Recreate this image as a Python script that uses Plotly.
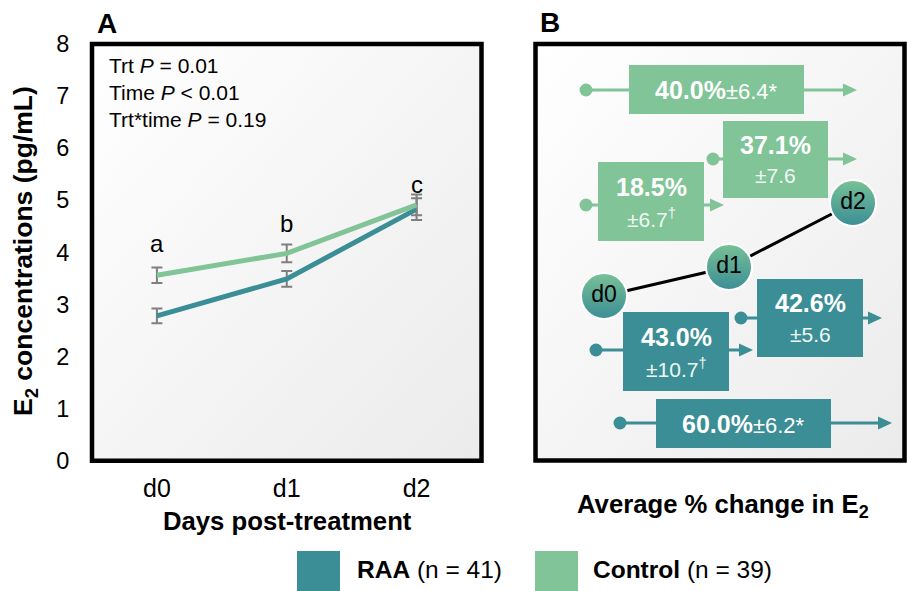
import base64
import plotly.graph_objects as go

# ---------------- data ----------------
days = ["d0", "d1", "d2"]
raa_mean = [2.78, 3.49, 4.83]
raa_se = [0.14, 0.15, 0.21]
ctrl_mean = [3.56, 3.98, 4.91]
ctrl_se = [0.15, 0.17, 0.20]
sig_letters = ["a", "b", "c"]
letter_y = [4.17, 4.55, 5.30]
stats_lines = ["Trt <i>P</i> = 0.01", "Time <i>P</i> < 0.01", "Trt*time <i>P</i> = 0.19"]
y_ticks = [0, 1, 2, 3, 4, 5, 6, 7, 8]

change_pct = ["40.0%", "37.1%", "18.5%", "42.6%", "43.0%", "60.0%"]
change_se = ["±6.4*", "±7.6", "±6.7<sup>†</sup>", "±5.6", "±10.7<sup>†</sup>", "±6.2*"]
change_group = ["Control", "Control", "Control", "RAA", "RAA", "RAA"]
day_nodes = ["d0", "d1", "d2"]

legend_groups = ["RAA", "Control"]
legend_n = [41, 39]

# ---------------- styling / layout geometry (pixels) ----------------
W, H = 907, 591
TEAL = "#3b8e96"
GREEN = "#80c497"
FONT = "Liberation Sans, Arial, sans-serif"
colors = {"RAA": TEAL, "Control": GREEN}

A_box = dict(x0=92, x1=481.5, y0=44, y1=460.7)
B_box = dict(x0=535.5, x1=904.5, y0=44, y1=460.5)

# box layout: x0, x1, y0, y1, dot_x, dot_y, tip_x, single_line
box_geo = [
    (629, 804, 65, 114, 586, 90, 857, True),
    (723, 828, 121, 198, 713, 159, 857, False),
    (598, 704, 162, 241, 586, 205, 724, False),
    (757, 863, 279, 357, 741, 318, 882, False),
    (623, 729, 312, 391, 596, 350, 753, False),
    (656, 831, 399, 448, 620, 423, 892, True),
]
node_xy = [(604, 296), (729, 267), (853, 203)]


def px(x):
    return x / W


def py(y):
    return 1 - y / H


def grad_uri():
    svg = ('<svg xmlns="http://www.w3.org/2000/svg" width="100" height="100" viewBox="0 0 100 100" '
           'preserveAspectRatio="none"><defs><linearGradient id="g" x1="0" y1="0" x2="1" y2="1">'
           '<stop offset="0" stop-color="#ffffff"/><stop offset="1" stop-color="#ebebeb"/>'
           '</linearGradient></defs><rect width="100" height="100" fill="url(#g)"/></svg>')
    return "data:image/svg+xml;base64," + base64.b64encode(svg.encode()).decode()


fig = go.Figure()

# ---------------- panel A ----------------
for name, mean, se in [("RAA", raa_mean, raa_se), ("Control", ctrl_mean, ctrl_se)]:
    fig.add_trace(go.Scatter(
        x=days, y=mean, mode="lines", name=name, showlegend=False,
        line=dict(color=colors[name], width=5),
        error_y=dict(type="data", array=se, color="#7f7f7f", thickness=2, width=5.5),
        xaxis="x", yaxis="y", cliponaxis=False,
    ))

annotations = []
for d, letter, ly in zip(days, sig_letters, letter_y):
    annotations.append(dict(x=d, y=ly, xref="x", yref="y", text=letter, showarrow=False,
                            font=dict(size=24, color="black", family=FONT)))

for i, t in enumerate(stats_lines):
    annotations.append(dict(x=107, y=65 + 27 * i, xref="x2", yref="y2", text=t, showarrow=False,
                            xanchor="left", yanchor="middle", font=dict(size=21, color="black", family=FONT)))

# ---------------- panel B ----------------
shapes = []
for b in (A_box, B_box):
    shapes.append(dict(type="rect", xref="x2", yref="y2", layer="above", **b,
                       line=dict(color="black", width=4.5), fillcolor="rgba(0,0,0,0)"))

for (x0, x1, y0, y1, dx, dy, tx, single), pct, se, grp in zip(box_geo, change_pct, change_se, change_group):
    c = colors[grp]
    shapes.append(dict(type="line", xref="x2", yref="y2", layer="below",
                       x0=dx, y0=dy, x1=tx - 10, y1=dy, line=dict(color=c, width=3)))
    shapes.append(dict(type="path", xref="x2", yref="y2", layer="below",
                       path=f"M{tx-14},{dy-6.5} L{tx},{dy} L{tx-14},{dy+6.5} Z",
                       fillcolor=c, line=dict(width=0)))
    shapes.append(dict(type="rect", xref="x2", yref="y2", layer="below",
                       x0=x0, x1=x1, y0=y0, y1=y1, fillcolor=c, line=dict(width=0)))
    cx, cy = (x0 + x1) / 2, (y0 + y1) / 2
    if single:
        annotations.append(dict(x=cx, y=cy, xref="x2", yref="y2", showarrow=False,
                                text=f"<b>{pct}</b><span style='font-size:22px'>{se}</span>",
                                font=dict(size=25, color="white", family=FONT)))
    else:
        annotations.append(dict(x=cx, y=cy - 15, xref="x2", yref="y2", showarrow=False,
                                text=f"<b>{pct}</b>", font=dict(size=25, color="white", family=FONT)))
        annotations.append(dict(x=cx, y=cy + 16, xref="x2", yref="y2", showarrow=False,
                                text=se, font=dict(size=21, color="#f0f8f4", family=FONT)))
    fig.add_trace(go.Scatter(x=[dx], y=[dy], mode="markers", xaxis="x2", yaxis="y2", showlegend=False,
                             marker=dict(size=13, color=c, line=dict(width=0)), hoverinfo="skip"))

fig.add_trace(go.Scatter(x=[p[0] for p in node_xy], y=[p[1] for p in node_xy], mode="lines",
                         xaxis="x2", yaxis="y2", showlegend=False,
                         line=dict(color="black", width=3), hoverinfo="skip"))
fig.add_trace(go.Scatter(x=[p[0] for p in node_xy], y=[p[1] for p in node_xy], mode="markers+text",
                         text=day_nodes, textposition="middle center",
                         textfont=dict(size=23, color="black", family=FONT),
                         xaxis="x2", yaxis="y2", showlegend=False, hoverinfo="skip",
                         marker=dict(size=46, color="#78c196", line=dict(color="white", width=2),
                                     gradient=dict(type="vertical", color=TEAL))))

annotations += [
    dict(x=107, y=23, xref="x2", yref="y2", text="<b>A</b>", showarrow=False,
         font=dict(size=28, color="black", family=FONT)),
    dict(x=550, y=22, xref="x2", yref="y2", text="<b>B</b>", showarrow=False,
         font=dict(size=28, color="black", family=FONT)),
    dict(x=287, y=521, xref="x2", yref="y2", text="<b>Days post-treatment</b>", showarrow=False,
         font=dict(size=25.7, color="black", family=FONT)),
    dict(x=723, y=506, xref="x2", yref="y2", text="<b>Average % change in E<sub>2</sub></b>", showarrow=False,
         font=dict(size=25.7, color="black", family=FONT)),
    dict(x=25, y=251, xref="x2", yref="y2", text="<b>E<sub>2</sub> concentrations (pg/mL)</b>",
         showarrow=False, textangle=-90, font=dict(size=26.5, color="black", family=FONT)),
]

leg_geo = [(297, 340, 355), (535, 578, 591)]
for (lx0, lx1, tx), g, n in zip(leg_geo, legend_groups, legend_n):
    shapes.append(dict(type="rect", xref="x2", yref="y2", layer="above",
                       x0=lx0, x1=lx1, y0=551, y1=592, fillcolor=colors[g], line=dict(width=0)))
    annotations.append(dict(x=tx, y=569, xref="x2", yref="y2", xanchor="left", showarrow=False,
                            text=f"<b>{g}</b> (n = {n})", font=dict(size=24.5, color="black", family=FONT)))

images = [
    dict(source=grad_uri(), xref="paper", yref="paper", x=px(b["x0"]), y=py(b["y0"]),
         sizex=px(b["x1"]) - px(b["x0"]), sizey=py(b["y0"]) - py(b["y1"]),
         xanchor="left", yanchor="top", sizing="stretch", layer="below")
    for b in (A_box, B_box)
]

fig.update_layout(
    width=W, height=H, margin=dict(l=0, r=0, t=0, b=0, pad=0, autoexpand=False),
    paper_bgcolor="white", plot_bgcolor="rgba(0,0,0,0)",
    font=dict(family=FONT, color="black"),
    xaxis=dict(domain=[px(A_box["x0"]), px(A_box["x1"])], range=[-0.5, 2.5], type="category",
               showgrid=False, zeroline=False, showline=False, ticks="outside", ticklen=5,
               tickcolor="rgba(0,0,0,0)", tickfont=dict(size=25, family=FONT), anchor="y",
               fixedrange=True, automargin=False),
    yaxis=dict(domain=[py(A_box["y1"]), py(A_box["y0"])], range=[0, 8], tickvals=y_ticks,
               showgrid=False, zeroline=False, showline=False, ticks="outside", ticklen=17,
               tickcolor="rgba(0,0,0,0)", tickfont=dict(size=23.5, family=FONT), anchor="x",
               fixedrange=True, automargin=False),
    xaxis2=dict(domain=[0, 1], range=[0, W], visible=False, showticklabels=False, anchor="y2",
                fixedrange=True, automargin=False),
    yaxis2=dict(domain=[0, 1], range=[H, 0], visible=False, showticklabels=False, anchor="x2",
                fixedrange=True, automargin=False),
    shapes=shapes, annotations=annotations, images=images,
)

fig.write_html("out.html")
